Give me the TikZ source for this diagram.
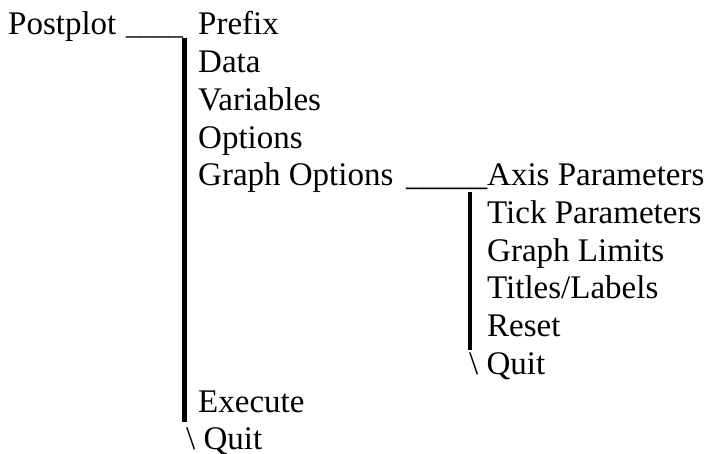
\documentclass[tikz,border=0pt]{standalone}
\usepackage{fontspec}
\setmainfont{Liberation Serif}
\begin{document}
\begin{tikzpicture}[x=1pt,y=-1pt,
  item/.style={anchor=base west, inner sep=0pt, font=\fontsize{33}{40}\selectfont},
  rule/.style={anchor=base west, inner sep=0pt},
  bar/.style={line width=4.5pt}]
\useasboundingbox (0,0) rectangle (707,454);
% main menu
\node[item] (postplot) at (8,35) {Postplot};
\node[rule, font=\fontsize{28.5}{34}\selectfont] (u1) at (126,35) {\_\_\_\_};
\node[item] (prefix) at (198,35) {Prefix};
\node[item] (data) at (198,72.7) {Data};
\node[item] (variables) at (198,110.4) {Variables};
\node[item] (options) at (198,148.1) {Options};
\node[item] (graphopt) at (198,185.8) {Graph Options};
\node[rule, font=\fontsize{32.4}{38}\selectfont] (u2) at (406,185.8) {\_\_\_\_\_};
\node[item] (execute) at (198,412) {Execute};
\node[item] (quit1) at (186,449.7) {\textbackslash\ Quit};
% graph options submenu
\node[item] (axis) at (487,185.8) {Axis Parameters};
\node[item] (tick) at (487,223.5) {Tick Parameters};
\node[item] (limits) at (487,261.2) {Graph Limits};
\node[item] (titles) at (487,298.9) {Titles/Labels};
\node[item] (reset) at (487,336.6) {Reset};
\node[item] (quit2) at (469,374.3) {\textbackslash\ Quit};
% bars
\coordinate (b1top) at (184.5,38);
\coordinate (b1bot) at (184.5,422);
\coordinate (b2top) at (470,192);
\coordinate (b2bot) at (470,350);
\draw[bar] (b1top) -- (b1bot);
\draw[bar] (b2top) -- (b2bot);
\end{tikzpicture}
\end{document}
